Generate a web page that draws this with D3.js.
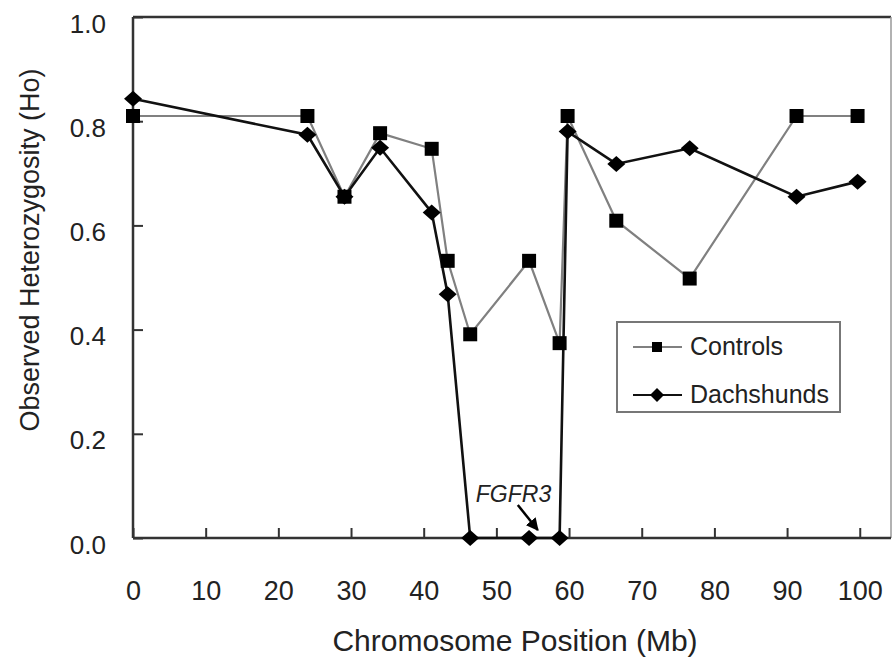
<!DOCTYPE html>
<html>
<head>
<meta charset="utf-8">
<script src="https://cdnjs.cloudflare.com/ajax/libs/d3/7.8.5/d3.min.js"></script>
<style>
  body { margin: 0; background: #fff; }
  svg text { font-family: "Liberation Sans", Arial, sans-serif; fill: #222; }
</style>
</head>
<body>
<div class="container"></div>
<script>
// 数据
var positions = [0, 24, 29.1, 34, 41.1, 43.3, 46.4, 54.5, 58.7, 59.8, 66.5, 76.6, 91.3, 99.7];
var controls = [0.81, 0.81, 0.655, 0.777, 0.747, 0.532, 0.391, 0.532, 0.374, 0.81, 0.609, 0.498, 0.81, 0.81];
var dachshunds = [0.843, 0.774, 0.655, 0.749, 0.625, 0.468, 0, 0, 0, 0.78, 0.718, 0.748, 0.655, 0.684];
var xTicks = [0, 10, 20, 30, 40, 50, 60, 70, 80, 90, 100];
var yTicks = [0, 0.2, 0.4, 0.6, 0.8, 1.0];
var seriesNames = ["Controls", "Dachshunds"];
var fgfr3Pos = 55.7;

// 画布
var main_svg_w = 893;
var main_svg_h = 659;

var svg = d3.select(".container")
            .append("svg")
            .attr("width", main_svg_w)
            .attr("height", main_svg_h);

// 比例尺
var x = d3.scaleLinear().domain([0, 104.3]).range([133, 891]);
var y = d3.scaleLinear().domain([0, 1]).range([538, 17]);

// 边框
svg.append("line").attr("x1", 133).attr("x2", 891).attr("y1", y(1)).attr("y2", y(1))
   .attr("stroke", "#333").attr("stroke-width", 2.5);
svg.append("line").attr("x1", x.range()[1]).attr("x2", x.range()[1]).attr("y1", y(1)).attr("y2", y(0))
   .attr("stroke", "#999").attr("stroke-width", 1.5);

// x 轴
var xAxis = svg.append("g")
   .attr("transform", "translate(0," + y(0) + ")")
   .call(d3.axisBottom(x).tickValues(xTicks).tickSize(-10).tickFormat(d3.format("d")));
xAxis.select(".domain").remove();
xAxis.selectAll(".tick line").attr("stroke", "#333").attr("stroke-width", 2);
xAxis.selectAll(".tick text")
     .attr("y", 62).attr("dy", 0)
     .style("font-size", "27px").attr("fill", "#222");

// y 轴
var yAxis = svg.append("g")
   .attr("transform", "translate(" + x(0) + ",0)")
   .call(d3.axisLeft(y).tickValues(yTicks).tickSize(-10).tickFormat(d3.format(".1f")));
yAxis.select(".domain").remove();
yAxis.selectAll(".tick line").attr("stroke", "#333").attr("stroke-width", 2);
yAxis.selectAll(".tick text")
     .attr("x", -27).attr("y", 15).attr("dy", 0)
     .style("font-size", "26px").attr("fill", "#222");

svg.append("line").attr("x1", x(0)).attr("x2", x(0)).attr("y1", y(1)).attr("y2", y(0))
   .attr("stroke", "#333").attr("stroke-width", 2.5);
svg.append("line").attr("x1", x(0)).attr("x2", x.range()[1]).attr("y1", y(0)).attr("y2", y(0))
   .attr("stroke", "#333").attr("stroke-width", 2.5);

// 轴标题
svg.append("text")
   .attr("x", 515).attr("y", 651)
   .style("text-anchor", "middle").style("font-size", "30px")
   .text("Chromosome Position (Mb)");
svg.append("text")
   .attr("transform", "translate(39,250) rotate(-90)")
   .style("text-anchor", "middle").style("font-size", "27px")
   .text("Observed Heterozygosity (Ho)");

// 线条
var line = d3.line()
             .x(function(d) { return x(d[0]); })
             .y(function(d) { return y(d[1]); });

var ctrlPts = positions.map(function(p, i) { return [p, controls[i]]; });
var dachPts = positions.map(function(p, i) { return [p, dachshunds[i]]; });

svg.append("path").attr("d", line(ctrlPts))
   .attr("fill", "none").attr("stroke", "#808080").attr("stroke-width", 2.2);
svg.append("path").attr("d", line(dachPts))
   .attr("fill", "none").attr("stroke", "#111").attr("stroke-width", 2.6);

// 菱形 (宽一些)
function diamondPath(w, h) {
  return "M0," + (-h) + "L" + w + ",0L0," + h + "L" + (-w) + ",0Z";
}
var square = d3.symbol().type(d3.symbolSquare).size(196);

svg.selectAll(".ctrl")
   .data(ctrlPts).enter().append("path")
   .attr("class", "ctrl")
   .attr("transform", function(d) { return "translate(" + x(d[0]) + "," + y(d[1]) + ")"; })
   .attr("d", square).attr("fill", "#000");

svg.selectAll(".dach")
   .data(dachPts).enter().append("path")
   .attr("class", "dach")
   .attr("transform", function(d) { return "translate(" + x(d[0]) + "," + y(d[1]) + ")"; })
   .attr("d", diamondPath(9, 8)).attr("fill", "#000");

// FGFR3 注释
svg.append("defs").append("marker")
   .attr("id", "arrow").attr("viewBox", "0 0 10 10")
   .attr("refX", 9).attr("refY", 5)
   .attr("markerWidth", 5).attr("markerHeight", 5)
   .attr("orient", "auto")
   .append("path").attr("d", "M0,0 L10,5 L0,10 z").attr("fill", "#000");

svg.append("line")
   .attr("x1", x(fgfr3Pos) - 20).attr("y1", y(0) - 33)
   .attr("x2", x(fgfr3Pos)).attr("y2", y(0) - 8)
   .attr("stroke", "#000").attr("stroke-width", 2.5)
   .attr("marker-end", "url(#arrow)");
svg.append("text")
   .attr("x", x(fgfr3Pos) - 62).attr("y", y(0) - 36)
   .style("font-size", "23px").style("font-style", "italic")
   .text("FGFR3");

// 图例
var legend = svg.append("g").attr("class", "legend")
                .attr("transform", "translate(617,322)");
legend.append("rect")
      .attr("width", 223).attr("height", 90)
      .attr("fill", "#fff").attr("stroke", "#777").attr("stroke-width", 2);

var item = legend.selectAll(".legend-item")
      .data(seriesNames).enter().append("g")
      .attr("class", "legend-item")
      .attr("transform", function(d, i) { return "translate(0," + (25 + i * 48) + ")"; });

item.append("line")
    .attr("x1", 16).attr("x2", 65).attr("y1", 0).attr("y2", 0)
    .attr("stroke", function(d, i) { return i === 0 ? "#808080" : "#111"; })
    .attr("stroke-width", 2.2);
item.append("path")
    .attr("transform", "translate(40,0)")
    .attr("d", function(d, i) {
      return i === 0 ? d3.symbol().type(d3.symbolSquare).size(100)()
                     : diamondPath(7, 7);
    })
    .attr("fill", "#000");
item.append("text")
    .attr("x", 73).attr("y", 8)
    .style("font-size", "25px")
    .text(function(d) { return d; });
</script>
</body>
</html>
